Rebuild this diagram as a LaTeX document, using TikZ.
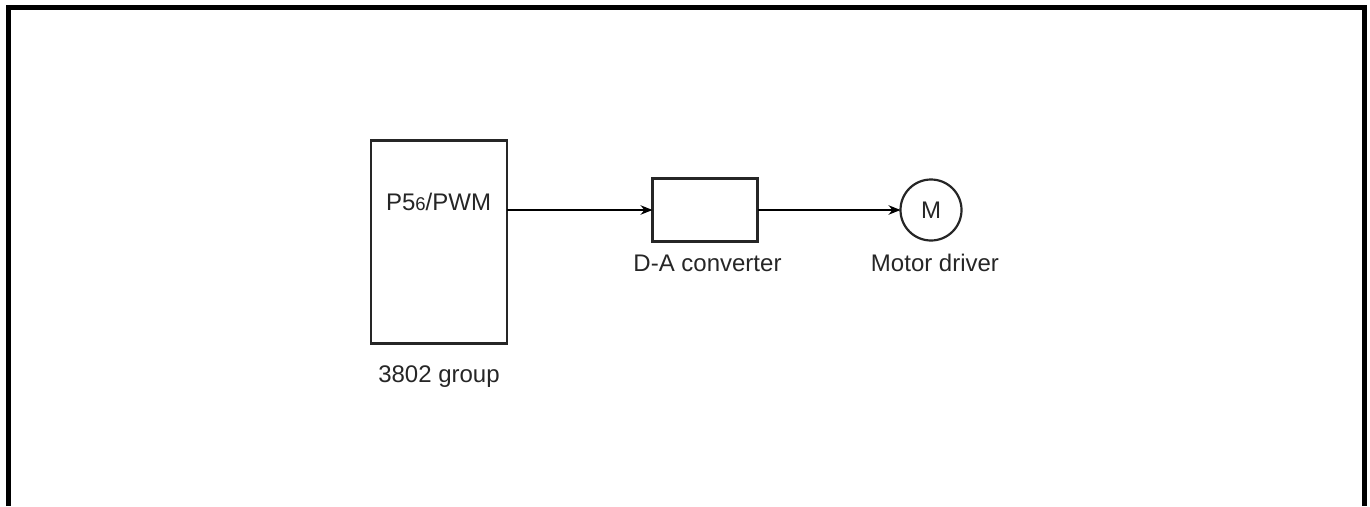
\documentclass[tikz,border=0pt]{standalone}
\usepackage{fontspec}
\setmainfont{Liberation Sans}
\usetikzlibrary{arrows.meta}
\definecolor{ink}{gray}{0.15}
\tikzset{
  blk/.style={draw=ink, line width=2.2pt, inner sep=0pt, outer sep=0pt},
  lbl/.style={text=ink, font=\fontsize{24}{27}\selectfont, inner sep=0pt, anchor=base},
  arr/.style={draw=black, line width=1.1pt, -{Stealth[length=12pt,width=9.5pt]}},
  frame/.style={draw=black, line width=5.3pt}
}
\begin{document}
\begin{tikzpicture}[x=1pt,y=-1pt]
\useasboundingbox (0,0) rectangle (1370,506);
% outer frame (open at the bottom)
\draw[frame] (8.3,506) -- (8.3,7.6) -- (1364.6,7.6) -- (1364.6,506);
% blocks
\node[blk, minimum width=136pt, minimum height=203pt] (mcu) at (439.3,242) {};
\node[lbl] (pwm) at (438.5,210) {P5\raisebox{0pt}{\fontsize{18.5}{20}\selectfont 6}/PWM};
\node[blk, minimum width=105pt, minimum height=63pt] (da) at (705,210) {};
\node[blk, circle, minimum size=61pt] (mot) at (931,210) {};
\node[lbl] (m) at (931,218.5) {M};
% labels
\node[lbl] (grp) at (439,382) {3802 group};
\node[lbl] (dalbl) at (707.5,271) {D-A converter};
\node[lbl] (motlbl) at (935,271) {Motor driver};
% connectors
\draw[arr] (mcu.east |- da.west) -- (da.west);
\draw[arr] (da.east) -- (mot.west);
\end{tikzpicture}
\end{document}
